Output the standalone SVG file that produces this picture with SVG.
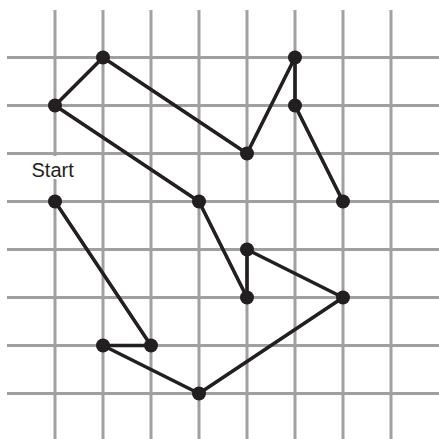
<svg xmlns="http://www.w3.org/2000/svg" width="439" height="439" viewBox="0 0 439 439">
<style>
.grid line{stroke:#a0a0a2;stroke-width:3}
.edges line{stroke:#231f20;stroke-width:3.6;stroke-linecap:round}
.node circle{fill:#231f20}
.lbl{font-family:"Liberation Sans",Arial,sans-serif;font-size:20px;fill:#231f20}
</style>
<rect width="439" height="439" fill="#fff"/>
<g class="grid">
<line x1="55" y1="10" x2="55" y2="439"/>
<line x1="103" y1="10" x2="103" y2="439"/>
<line x1="151" y1="10" x2="151" y2="439"/>
<line x1="199" y1="10" x2="199" y2="439"/>
<line x1="247" y1="10" x2="247" y2="439"/>
<line x1="295" y1="10" x2="295" y2="439"/>
<line x1="343" y1="10" x2="343" y2="439"/>
<line x1="391" y1="10" x2="391" y2="439"/>
<line x1="7" y1="57.5" x2="439" y2="57.5"/>
<line x1="7" y1="105.5" x2="439" y2="105.5"/>
<line x1="7" y1="153.5" x2="439" y2="153.5"/>
<line x1="7" y1="201.5" x2="439" y2="201.5"/>
<line x1="7" y1="249.5" x2="439" y2="249.5"/>
<line x1="7" y1="297.5" x2="439" y2="297.5"/>
<line x1="7" y1="345.5" x2="439" y2="345.5"/>
<line x1="7" y1="393.5" x2="439" y2="393.5"/>
</g>
<g id="start-label">
<rect x="30" y="156" width="47" height="23" fill="#fff"/>
<text class="lbl" x="31.5" y="176.5">Start</text>
</g>
<g class="edges" id="connectors">
<line x1="55" y1="201.5" x2="151" y2="345.5"/>
<line x1="151" y1="345.5" x2="103" y2="345.5"/>
<line x1="103" y1="345.5" x2="199" y2="393.5"/>
<line x1="199" y1="393.5" x2="343" y2="297.5"/>
<line x1="343" y1="297.5" x2="247" y2="249.5"/>
<line x1="247" y1="249.5" x2="247" y2="297.5"/>
<line x1="247" y1="297.5" x2="199" y2="201.5"/>
<line x1="199" y1="201.5" x2="55" y2="105.5"/>
<line x1="55" y1="105.5" x2="103" y2="57.5"/>
<line x1="103" y1="57.5" x2="247" y2="153.5"/>
<line x1="247" y1="153.5" x2="295" y2="57.5"/>
<line x1="295" y1="57.5" x2="295" y2="105.5"/>
<line x1="295" y1="105.5" x2="343" y2="201.5"/>
</g>
<g class="node" id="n-start"><circle cx="55" cy="201.5" r="7"/></g>
<g class="node" id="n1"><circle cx="151" cy="345.5" r="7"/></g>
<g class="node" id="n2"><circle cx="103" cy="345.5" r="7"/></g>
<g class="node" id="n3"><circle cx="199" cy="393.5" r="7"/></g>
<g class="node" id="n4"><circle cx="343" cy="297.5" r="7"/></g>
<g class="node" id="n5"><circle cx="247" cy="249.5" r="7"/></g>
<g class="node" id="n6"><circle cx="247" cy="297.5" r="7"/></g>
<g class="node" id="n7"><circle cx="199" cy="201.5" r="7"/></g>
<g class="node" id="n8"><circle cx="55" cy="105.5" r="7"/></g>
<g class="node" id="n9"><circle cx="103" cy="57.5" r="7"/></g>
<g class="node" id="n10"><circle cx="247" cy="153.5" r="7"/></g>
<g class="node" id="n11"><circle cx="295" cy="57.5" r="7"/></g>
<g class="node" id="n12"><circle cx="295" cy="105.5" r="7"/></g>
<g class="node" id="n13"><circle cx="343" cy="201.5" r="7"/></g>
</svg>
